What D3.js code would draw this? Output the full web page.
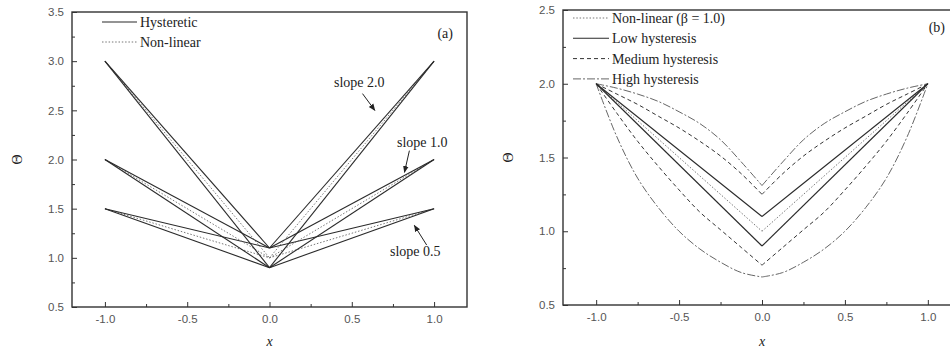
<!DOCTYPE html>
<html>
<head>
<meta charset="utf-8">
<script src="https://cdn.jsdelivr.net/npm/d3@7"></script>
<style>
  body { margin: 0; background: #fff; }
  .tick text { font-family: "Liberation Sans", Arial, sans-serif; font-size: 11.5px; fill: #555; }
  .tick line { stroke: #333; }
  .serif { font-family: "Liberation Serif", "Times New Roman", serif; fill: #222; }
</style>
</head>
<body>
<div id="chart"></div>
<script>
"use strict";

// ---- panel (a) data ----
var xA = [-1.0, 0.0, 1.0];
var slope05Upper = [1.5, 1.1, 1.5];
var slope05Lower = [1.5, 0.9, 1.5];
var slope05Nonlin = [1.5, 1.0, 1.5];
var slope10Upper = [2.0, 1.1, 2.0];
var slope10Lower = [2.0, 0.9, 2.0];
var slope10Nonlin = [2.0, 1.0, 2.0];
var slope20Upper = [3.0, 1.1, 3.0];
var slope20Lower = [3.0, 0.9, 3.0];
var slope20Nonlin = [3.0, 1.0, 3.0];
var legendA = ["Hysteretic", "Non-linear"];
var slopeLabels = ["slope 2.0", "slope 1.0", "slope 0.5"];

// ---- panel (b) data ----
var xB3 = [-1.0, 0.0, 1.0];
var nonlinB = [2.0, 1.0, 2.0];
var lowUpper = [2.0, 1.1, 2.0];
var lowLower = [2.0, 0.9, 2.0];
var xB = [-1.0, -0.875, -0.75, -0.625, -0.5, -0.375, -0.25, -0.125, 0.0,
          0.125, 0.25, 0.375, 0.5, 0.625, 0.75, 0.875, 1.0];
var medUpper = [2.0, 1.93, 1.86, 1.78, 1.70, 1.61, 1.51, 1.39, 1.25,
                1.39, 1.51, 1.61, 1.70, 1.78, 1.86, 1.93, 2.0];
var medLower = [2.0, 1.80, 1.61, 1.44, 1.28, 1.13, 1.01, 0.89, 0.77,
                0.89, 1.01, 1.13, 1.28, 1.44, 1.61, 1.80, 2.0];
var highUpper = [2.0, 1.97, 1.93, 1.88, 1.81, 1.73, 1.62, 1.47, 1.31,
                 1.47, 1.62, 1.73, 1.81, 1.88, 1.93, 1.97, 2.0];
var highLower = [2.0, 1.64, 1.36, 1.16, 1.00, 0.88, 0.79, 0.72, 0.69,
                 0.72, 0.79, 0.88, 1.00, 1.16, 1.36, 1.64, 2.0];
var legendB = ["Non-linear (\u03B2 = 1.0)", "Low hysteresis", "Medium hysteresis", "High hysteresis"];

var xTicks = [-1.0, -0.5, 0.0, 0.5, 1.0];
var xMinor = [-0.75, -0.25, 0.25, 0.75];
var yTicksA = [0.5, 1.0, 1.5, 2.0, 2.5, 3.0, 3.5];
var yMinorA = [0.75, 1.25, 1.75, 2.25, 2.75, 3.25];
var yTicksB = [0.5, 1.0, 1.5, 2.0, 2.5];
var yMinorB = [0.75, 1.25, 1.75, 2.25];

var styles = {
  solid: { color: "#2a2a2a", dash: null, width: 1.1 },
  dotted: { color: "#777", dash: "1.5,1.8", width: 1 },
  dashed: { color: "#333", dash: "4,3", width: 1 },
  dashdot: { color: "#555", dash: "8,2,2,2", width: 0.9 }
};

// plain hyphen minus, like the original figure
var fmt = function (d) { return d.toFixed(1); };

var svg = d3.select("#chart").append("svg")
  .attr("width", 950).attr("height", 355);

var defs = svg.append("defs");
defs.append("marker")
  .attr("id", "arrow")
  .attr("viewBox", "0 0 10 10")
  .attr("refX", 9).attr("refY", 5)
  .attr("markerWidth", 7).attr("markerHeight", 7)
  .attr("orient", "auto")
  .append("path").attr("d", "M0,1 L10,5 L0,9 Z").attr("fill", "#222");

function makePanel(p) {
  var g = svg.append("g");
  var x = d3.scaleLinear().domain([-1.2, 1.2]).range([p.left, p.right]);
  var y = d3.scaleLinear().domain(p.yDomain).range([p.bottom, p.top]);

  // major/minor ticks, pointing inward
  g.append("g").attr("transform", "translate(0," + p.bottom + ")")
    .call(d3.axisBottom(x).tickValues(xTicks).tickSize(-5).tickPadding(8)
      .tickFormat(fmt))
    .call(function (s) { s.select(".domain").remove(); });
  g.append("g").attr("transform", "translate(0," + p.bottom + ")")
    .call(d3.axisBottom(x).tickValues(xMinor).tickSize(-3).tickFormat(""))
    .call(function (s) { s.select(".domain").remove(); });
  g.append("g").attr("transform", "translate(" + p.left + ",0)")
    .call(d3.axisLeft(y).tickValues(p.yTicks).tickSize(-5).tickPadding(8)
      .tickFormat(fmt))
    .call(function (s) { s.select(".domain").remove(); });
  g.append("g").attr("transform", "translate(" + p.left + ",0)")
    .call(d3.axisLeft(y).tickValues(p.yMinor).tickSize(-3).tickFormat(""))
    .call(function (s) { s.select(".domain").remove(); });

  // frame
  g.append("rect")
    .attr("x", p.left).attr("y", p.top)
    .attr("width", p.right - p.left).attr("height", p.bottom - p.top)
    .attr("fill", "none").attr("stroke", "#333").attr("stroke-width", 1.4);

  // axis labels
  g.append("text").attr("class", "serif")
    .attr("x", x(0)).attr("y", 346)
    .attr("text-anchor", "middle")
    .style("font-style", "italic").style("font-size", "14px")
    .text("x");
  g.append("text").attr("class", "serif")
    .attr("transform", "translate(" + (p.left - 55) + "," + ((p.top + p.bottom) / 2) + ") rotate(-90)")
    .attr("text-anchor", "middle").attr("dy", "0.35em")
    .style("font-size", "14px")
    .text("\u0398");

  return { g: g, x: x, y: y };
}

function drawSeries(panel, xs, ys, st, curved) {
  var pts = xs.map(function (d, i) { return [d, ys[i]]; });
  var line = d3.line()
    .x(function (d) { return panel.x(d[0]); })
    .y(function (d) { return panel.y(d[1]); })
    .curve(curved ? d3.curveCatmullRom : d3.curveLinear);
  // split at x = 0 so the cusp stays sharp
  var halves = [pts.filter(function (d) { return d[0] <= 0; }),
                pts.filter(function (d) { return d[0] >= 0; })];
  halves.forEach(function (h) {
    panel.g.append("path")
      .datum(h)
      .attr("d", line)
      .attr("fill", "none")
      .attr("stroke", st.color)
      .attr("stroke-width", st.width)
      .attr("stroke-dasharray", st.dash);
  });
}

function legend(panel, items, x0, x1, y0, dy) {
  items.forEach(function (it, i) {
    var yy = y0 + i * dy;
    panel.g.append("line")
      .attr("x1", x0).attr("x2", x1).attr("y1", yy).attr("y2", yy)
      .attr("stroke", it.st.color).attr("stroke-width", it.st.width)
      .attr("stroke-dasharray", it.st.dash);
    panel.g.append("text").attr("class", "serif")
      .attr("x", x1 + 3).attr("y", yy).attr("dy", "0.35em")
      .style("font-size", "14px")
      .text(it.label);
  });
}

// ---- panel (a) ----
var pa = makePanel({ left: 72, right: 467, top: 12, bottom: 307,
  yDomain: [0.5, 3.5], yTicks: yTicksA, yMinor: yMinorA });

[[slope05Upper, slope05Lower, slope05Nonlin],
 [slope10Upper, slope10Lower, slope10Nonlin],
 [slope20Upper, slope20Lower, slope20Nonlin]].forEach(function (s) {
  drawSeries(pa, xA, s[2], styles.dotted, false);
  drawSeries(pa, xA, s[0], styles.solid, false);
  drawSeries(pa, xA, s[1], styles.solid, false);
});

legend(pa, [{ label: legendA[0], st: styles.solid }, { label: legendA[1], st: styles.dotted }],
  102, 137, 22, 20);

pa.g.append("text").attr("class", "serif")
  .attr("x", 453).attr("y", 38).attr("text-anchor", "end")
  .style("font-size", "14px").text("(a)");

// slope annotations with arrows (arrow ends in data units)
var annA = [
  { label: slopeLabels[0], tx: 334, ty: 87, ax1: 0.565, ay1: 2.67, ax2: 0.64, ay2: 2.50 },
  { label: slopeLabels[1], tx: 397, ty: 147, ax1: 0.85, ay1: 2.09, ax2: 0.82, ay2: 1.87 },
  { label: slopeLabels[2], tx: 390, ty: 256, ax1: 0.955, ay1: 1.13, ax2: 0.88, ay2: 1.33 }
];
annA.forEach(function (a) {
  pa.g.append("text").attr("class", "serif")
    .attr("x", a.tx).attr("y", a.ty)
    .style("font-size", "14px").text(a.label);
  pa.g.append("line")
    .attr("x1", pa.x(a.ax1)).attr("y1", pa.y(a.ay1))
    .attr("x2", pa.x(a.ax2)).attr("y2", pa.y(a.ay2))
    .attr("stroke", "#222").attr("stroke-width", 1)
    .attr("marker-end", "url(#arrow)");
});

// ---- panel (b) ----
var pb = makePanel({ left: 563, right: 961, top: 10, bottom: 305,
  yDomain: [0.5, 2.5], yTicks: yTicksB, yMinor: yMinorB });

drawSeries(pb, xB, highUpper, styles.dashdot, true);
drawSeries(pb, xB, highLower, styles.dashdot, true);
drawSeries(pb, xB, medUpper, styles.dashed, true);
drawSeries(pb, xB, medLower, styles.dashed, true);
drawSeries(pb, xB3, nonlinB, styles.dotted, false);
drawSeries(pb, xB3, lowUpper, styles.solid, false);
drawSeries(pb, xB3, lowLower, styles.solid, false);

legend(pb, [
  { label: legendB[0], st: styles.dotted },
  { label: legendB[1], st: styles.solid },
  { label: legendB[2], st: styles.dashed },
  { label: legendB[3], st: styles.dashdot }
], 573, 609, 18, 20.3);

pb.g.append("text").attr("class", "serif")
  .attr("x", 945).attr("y", 32).attr("text-anchor", "end")
  .style("font-size", "14px").text("(b)");
</script>
</body>
</html>
